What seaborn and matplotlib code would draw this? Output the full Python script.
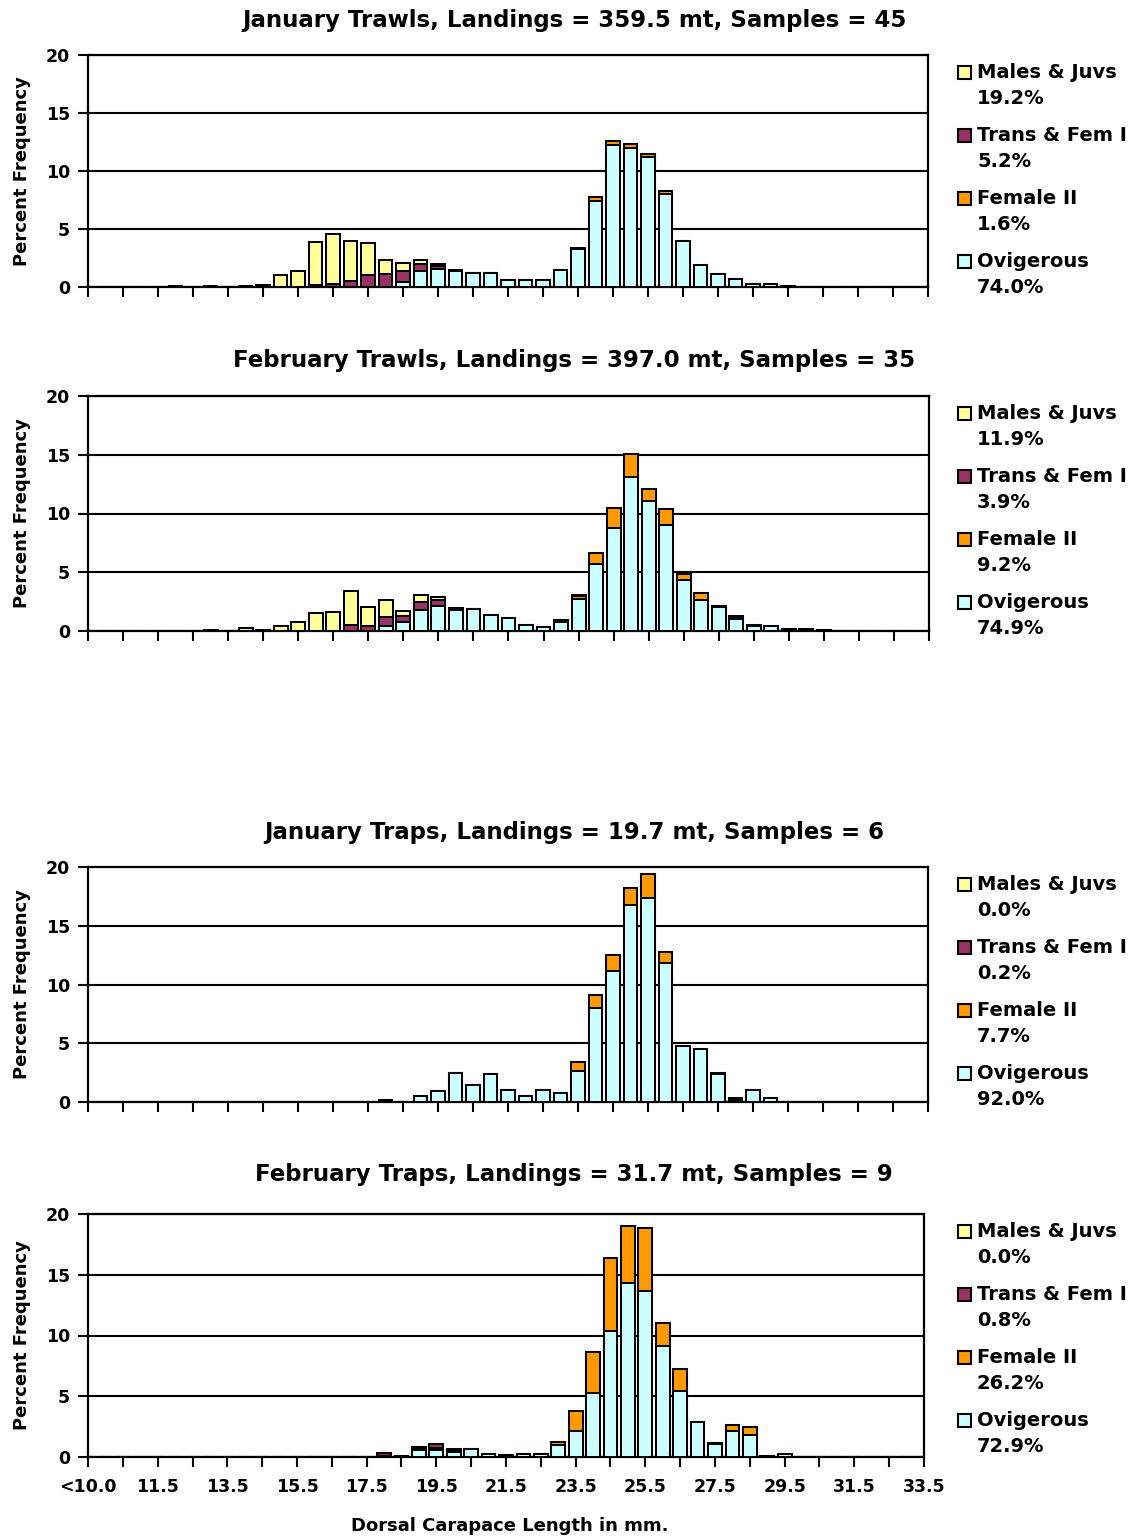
import numpy as np
import pandas as pd
import matplotlib
matplotlib.use("Agg")
import matplotlib.pyplot as plt
from matplotlib.patches import Rectangle
import seaborn as sns

sns.set_style("white")
plt.rcParams["font.family"] = ["DejaVu Sans"]
plt.rcParams["font.weight"] = "bold"
plt.rcParams["text.color"] = "black"
plt.rcParams["axes.labelcolor"] = "black"
plt.rcParams["xtick.color"] = "black"
plt.rcParams["ytick.color"] = "black"

# Size classes (dorsal carapace length, mm)
lengths = ["<10.0", "10.0", "10.5", "11.0", "11.5", "12.0", "12.5", "13.0", "13.5",
           "14.0", "14.5", "15.0", "15.5", "16.0", "16.5", "17.0", "17.5", "18.0",
           "18.5", "19.0", "19.5", "20.0", "20.5", "21.0", "21.5", "22.0", "22.5",
           "23.0", "23.5", "24.0", "24.5", "25.0", "25.5", "26.0", "26.5", "27.0",
           "27.5", "28.0", "28.5", "29.0", "29.5", "30.0", "30.5", "31.0", "31.5",
           "32.0", "32.5", "33.0", "33.5"]

groups = ["Males & Juvs", "Trans & Fem I", "Female II", "Ovigerous"]
group_colors = ["#FFFF99", "#993366", "#FF9900", "#CCFFFF"]

# ---- January trawls (% frequency per size class) ----
jan_trawl_males = [0, 0, 0, 0, 0, 0.05, 0, 0.05, 0, 0.1, 0.15, 1.0, 1.4, 3.66, 4.25, 3.43, 2.78,
                   1.18, 0.7, 0.35, 0.1, 0, 0, 0, 0, 0, 0, 0, 0, 0, 0, 0, 0, 0, 0, 0, 0, 0, 0,
                   0, 0, 0, 0, 0, 0, 0, 0, 0, 0]
jan_trawl_trans = [0, 0, 0, 0, 0, 0, 0, 0, 0, 0, 0, 0, 0, 0.2, 0.3, 0.55, 1.0, 1.15, 0.9, 0.65,
                   0.3, 0.1, 0, 0, 0, 0, 0, 0, 0, 0, 0, 0, 0, 0, 0, 0, 0, 0, 0, 0, 0, 0, 0, 0,
                   0, 0, 0, 0, 0]
jan_trawl_fem2 = [0, 0, 0, 0, 0, 0, 0, 0, 0, 0, 0, 0, 0, 0, 0, 0, 0, 0, 0, 0, 0, 0, 0, 0, 0, 0,
                  0, 0, 0.1, 0.3, 0.35, 0.3, 0.3, 0.2, 0.05, 0, 0, 0, 0, 0, 0, 0, 0, 0, 0, 0,
                  0, 0, 0]
jan_trawl_ovig = [0, 0, 0, 0, 0, 0, 0, 0, 0, 0, 0, 0, 0, 0, 0, 0, 0, 0, 0.45, 1.35, 1.55, 1.35,
                  1.24, 1.24, 0.58, 0.58, 0.63, 1.47, 3.25, 7.42, 12.25, 12.0, 11.2, 8.05, 3.93,
                  1.87, 1.15, 0.72, 0.23, 0.26, 0.1, 0, 0, 0, 0, 0, 0, 0, 0]
jan_trawl_shares = [19.2, 5.2, 1.6, 74.0]

# ---- February trawls ----
feb_trawl_males = [0, 0, 0, 0, 0, 0, 0, 0.05, 0, 0.28, 0.1, 0.43, 0.77, 1.53, 1.62, 2.88, 1.67,
                   1.47, 0.4, 0.54, 0.3, 0.09, 0, 0, 0, 0, 0, 0, 0, 0, 0, 0, 0, 0, 0, 0, 0, 0,
                   0, 0, 0, 0, 0, 0, 0, 0, 0, 0, 0]
feb_trawl_trans = [0, 0, 0, 0, 0, 0, 0, 0, 0, 0, 0, 0, 0, 0, 0, 0.5, 0.4, 0.8, 0.55, 0.75, 0.5,
                   0.15, 0, 0, 0, 0, 0, 0.05, 0.1, 0, 0, 0, 0, 0, 0, 0, 0, 0.1, 0, 0, 0, 0, 0,
                   0, 0, 0, 0, 0, 0]
feb_trawl_fem2 = [0, 0, 0, 0, 0, 0, 0, 0, 0, 0, 0, 0, 0, 0, 0, 0, 0, 0, 0, 0, 0, 0, 0, 0, 0, 0,
                  0.05, 0.1, 0.25, 0.9, 1.65, 1.95, 0.97, 1.35, 0.56, 0.6, 0.08, 0.15, 0.05, 0,
                  0, 0, 0, 0, 0, 0, 0, 0, 0]
feb_trawl_ovig = [0, 0, 0, 0, 0, 0, 0, 0, 0, 0, 0, 0, 0, 0, 0, 0, 0, 0.4, 0.75, 1.75, 2.1, 1.75,
                  1.89, 1.34, 1.14, 0.54, 0.32, 0.75, 2.7, 5.7, 8.78, 13.08, 11.1, 9.02, 4.3,
                  2.64, 2.05, 1.0, 0.43, 0.4, 0.17, 0.14, 0.06, 0, 0, 0, 0, 0, 0]
feb_trawl_shares = [11.9, 3.9, 9.2, 74.9]

# ---- January traps ----
jan_trap_males = [0] * 49
jan_trap_trans = [0, 0, 0, 0, 0, 0, 0, 0, 0, 0, 0, 0, 0, 0, 0, 0, 0, 0.2, 0, 0, 0, 0, 0, 0, 0,
                  0, 0, 0, 0, 0, 0, 0, 0, 0, 0, 0, 0, 0, 0, 0, 0, 0, 0, 0, 0, 0, 0, 0, 0]
jan_trap_fem2 = [0, 0, 0, 0, 0, 0, 0, 0, 0, 0, 0, 0, 0, 0, 0, 0, 0, 0, 0, 0, 0, 0, 0, 0, 0, 0, 0,
                 0, 0.75, 1.05, 1.3, 1.45, 2.0, 1.0, 0, 0, 0.12, 0.15, 0, 0, 0, 0, 0, 0, 0, 0,
                 0, 0, 0]
jan_trap_ovig = [0, 0, 0, 0, 0, 0, 0, 0, 0, 0, 0, 0, 0, 0, 0, 0, 0, 0, 0, 0.5, 0.94, 2.45, 1.47,
                 2.38, 0.99, 0.51, 1.05, 0.77, 2.62, 8.02, 11.18, 16.75, 17.37, 11.8, 4.8, 4.54,
                 2.38, 0.15, 0.99, 0.34, 0, 0, 0, 0, 0, 0, 0, 0, 0]
jan_trap_shares = [0.0, 0.2, 7.7, 92.0]

# ---- February traps ----
feb_trap_males = [0] * 49
feb_trap_trans = [0, 0, 0, 0, 0, 0, 0, 0, 0, 0, 0, 0, 0, 0, 0, 0, 0, 0.25, 0, 0.15, 0.3, 0.1,
                  0, 0, 0, 0, 0, 0, 0, 0, 0, 0, 0, 0, 0, 0, 0, 0, 0, 0, 0, 0, 0, 0, 0, 0, 0,
                  0, 0]
feb_trap_fem2 = [0, 0, 0, 0, 0, 0, 0, 0, 0, 0, 0, 0, 0, 0, 0, 0, 0, 0, 0, 0.05, 0.15, 0.1, 0, 0,
                 0, 0, 0, 0.3, 1.65, 3.4, 5.95, 4.7, 5.17, 1.9, 1.78, 0, 0.13, 0.5, 0.7, 0, 0,
                 0, 0, 0, 0, 0, 0, 0, 0]
feb_trap_ovig = [0, 0, 0, 0, 0, 0, 0, 0, 0, 0, 0, 0, 0, 0, 0, 0, 0, 0.05, 0.1, 0.6, 0.6, 0.45,
                 0.63, 0.22, 0.16, 0.22, 0.22, 0.97, 2.1, 5.25, 10.4, 14.3, 13.7, 9.15, 5.45,
                 2.88, 1.05, 2.15, 1.8, 0.05, 0.27, 0, 0, 0, 0, 0, 0, 0, 0]
feb_trap_shares = [0.0, 0.8, 26.2, 72.9]

titles = ["January Trawls, Landings = 359.5 mt, Samples = 45",
          "February Trawls, Landings = 397.0 mt, Samples = 35",
          "January Traps, Landings = 19.7 mt, Samples = 6",
          "February Traps, Landings = 31.7 mt, Samples = 9"]

panels = [
    (jan_trawl_males, jan_trawl_trans, jan_trawl_fem2, jan_trawl_ovig, jan_trawl_shares),
    (feb_trawl_males, feb_trawl_trans, feb_trawl_fem2, feb_trawl_ovig, feb_trawl_shares),
    (jan_trap_males, jan_trap_trans, jan_trap_fem2, jan_trap_ovig, jan_trap_shares),
    (feb_trap_males, feb_trap_trans, feb_trap_fem2, feb_trap_ovig, feb_trap_shares),
]

W, H = 1129, 1539
fig = plt.figure(figsize=(W / 100, H / 100), dpi=100)
fig.patch.set_facecolor("white")

# axes boxes in pixels: left, top, right, bottom
boxes = [(88, 55, 928, 287), (88, 396, 929, 631), (88, 867, 928, 1102), (88, 1214, 924, 1457)]
title_y = [21, 360, 832, 1175]

for p, (males, trans, fem2, ovig, shares) in enumerate(panels):
    l, t, r, b = boxes[p]
    ax = fig.add_axes([l / W, 1 - b / H, (r - l) / W, (b - t) / H])

    # stacked from the bottom: Ovigerous, Female II, Trans & Fem I, Males & Juvs
    stack = np.vstack([ovig, fem2, trans, males])
    cum = np.cumsum(stack, axis=0)
    stack_colors = [group_colors[3], group_colors[2], group_colors[1], group_colors[0]]
    for level in range(3, -1, -1):
        df = pd.DataFrame({"length": lengths, "pct": cum[level]})
        sns.barplot(data=df, x="length", y="pct", order=lengths, color=stack_colors[level],
                    saturation=1, width=0.79, edgecolor="black", linewidth=1.45,
                    errorbar=None, ax=ax, zorder=3)

    ax.set_xlim(0, len(lengths) - 1)
    ax.set_ylim(0, 20)
    ax.set_yticks([0, 5, 10, 15, 20])
    ax.set_xticks(range(0, len(lengths), 2))
    if p == 3:
        ax.set_xticklabels([lengths[i] if i % 4 == 0 else "" for i in range(0, len(lengths), 2)])
    else:
        ax.set_xticklabels([])
    ax.set_xlabel("")
    ax.set_ylabel("")
    ax.yaxis.grid(True, color="black", linewidth=1.5, zorder=0)
    ax.xaxis.grid(False)
    ax.set_axisbelow(True)
    for s in ax.spines.values():
        s.set_visible(True)
        s.set_color("black")
        s.set_linewidth(1.6)
    ax.tick_params(axis="y", direction="out", length=7, width=1.5, pad=6,
                   labelsize=12.5, colors="black", left=True)
    ax.tick_params(axis="x", direction="out", length=7, width=1.5, pad=8,
                   labelsize=12.5, colors="black", bottom=True)
    for lab in ax.get_xticklabels() + ax.get_yticklabels():
        lab.set_fontweight("bold")

    fig.text(574 / W, 1 - title_y[p] / H, titles[p], ha="center", va="center",
             fontsize=16.5, fontweight="bold", color="black")
    fig.text(22 / W, 1 - (t + b) / 2 / H, "Percent Frequency", rotation=90,
             ha="center", va="center", fontsize=13, fontweight="bold", color="black")

    # legend: coloured key with group name, share on the line below
    for i, g in enumerate(groups):
        y1 = t + 17.5 + 63 * i
        fig.patches.append(Rectangle((958 / W, 1 - (y1 + 6.5) / H), 13 / W, 13 / H,
                                     transform=fig.transFigure, facecolor=group_colors[i],
                                     edgecolor="black", linewidth=1.5))
        fig.text(977 / W, 1 - y1 / H, g, ha="left", va="center", fontsize=14,
                 fontweight="bold", color="black")
        fig.text(977 / W, 1 - (y1 + 26) / H, f"{shares[i]:.1f}%", ha="left", va="center",
                 fontsize=14, fontweight="bold", color="black")

fig.text(510 / W, 1 - 1526 / H, "Dorsal Carapace Length in mm.", ha="center", va="center",
         fontsize=13, fontweight="bold", color="black")

fig.savefig("out.png", dpi=100, facecolor="white")
